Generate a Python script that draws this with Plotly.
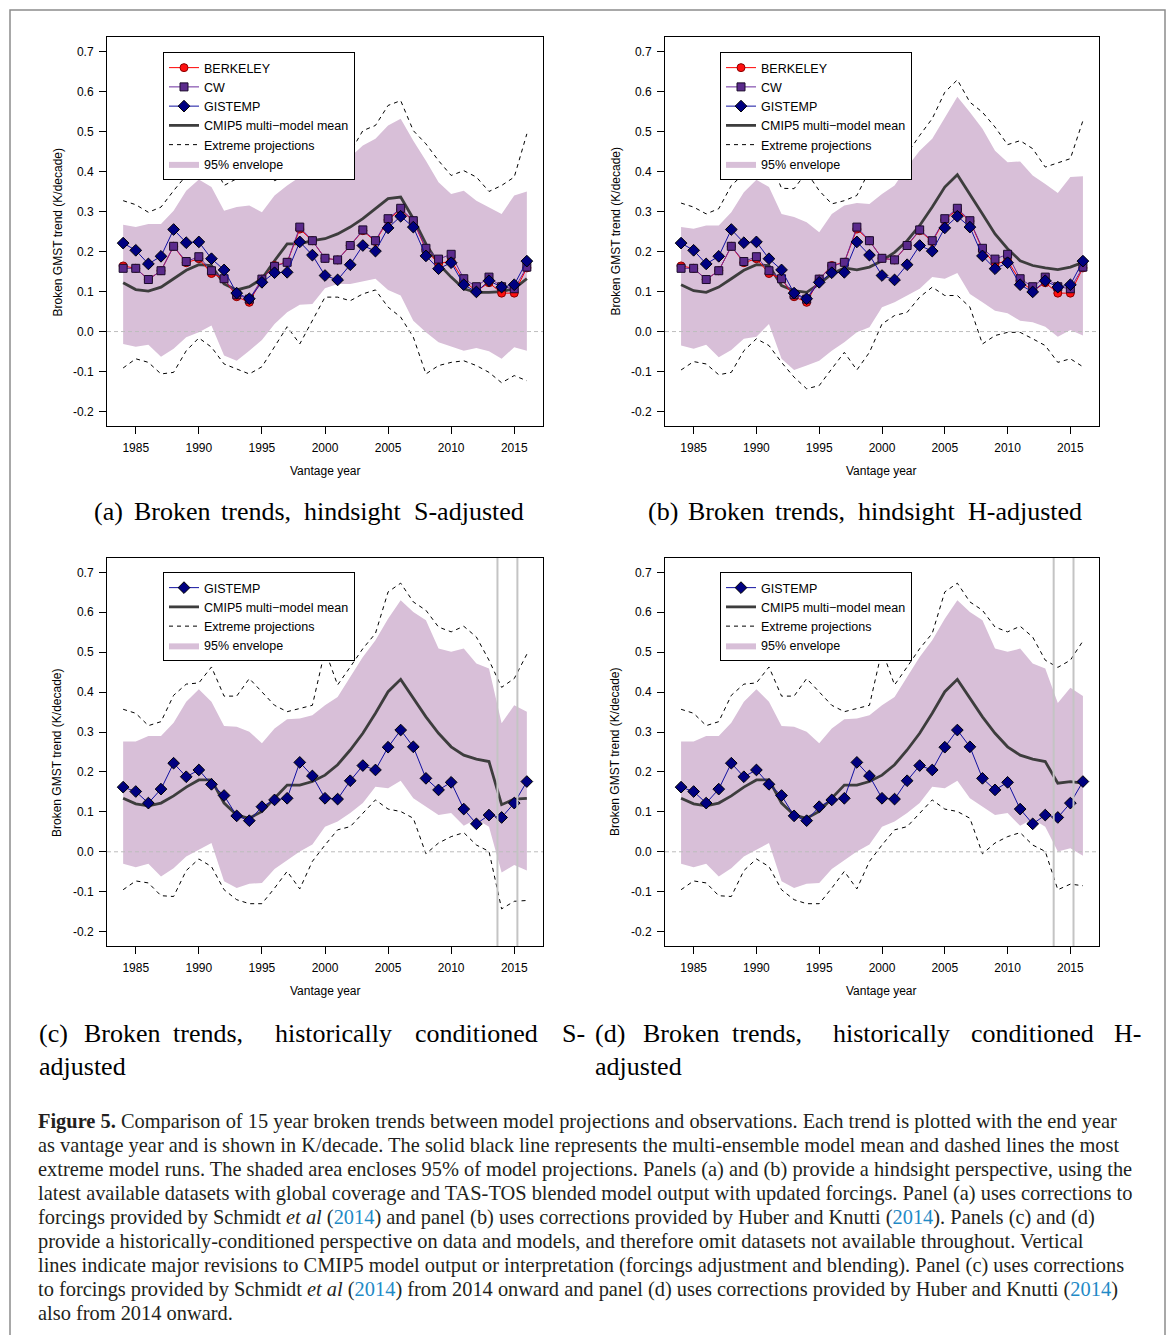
import plotly.graph_objects as go

W, H = 1173, 1335

# ---------------- data ----------------
years = list(range(1984, 2017))
xticks = [1985, 1990, 1995, 2000, 2005, 2010, 2015]
yticks = [-0.2, -0.1, 0.0, 0.1, 0.2, 0.3, 0.4, 0.5, 0.6, 0.7]
ytick_text = ["-0.2", "-0.1", "0.0", "0.1", "0.2", "0.3", "0.4", "0.5", "0.6", "0.7"]

# observations, panels (a) and (b)
berkeley = [0.164, 0.158, 0.130, 0.152, 0.213, 0.172, 0.182, 0.145, 0.132, 0.087, 0.073, 0.131, 0.165, 0.173, 0.256, 0.227,
            0.183, 0.179, 0.215, 0.252, 0.225, 0.279, 0.305, 0.276, 0.205, 0.169, 0.177, 0.127, 0.101, 0.122, 0.096, 0.096, 0.159]
cw = [0.158, 0.158, 0.130, 0.152, 0.213, 0.175, 0.187, 0.152, 0.132, 0.092, 0.081, 0.131, 0.163, 0.173, 0.261, 0.227,
      0.183, 0.179, 0.215, 0.254, 0.227, 0.282, 0.308, 0.277, 0.208, 0.181, 0.193, 0.132, 0.112, 0.136, 0.112, 0.107, 0.161]
gistemp_ab = [0.221, 0.203, 0.169, 0.188, 0.255, 0.222, 0.224, 0.182, 0.154, 0.096, 0.082, 0.123, 0.147, 0.148, 0.224, 0.191,
              0.140, 0.129, 0.167, 0.215, 0.201, 0.259, 0.288, 0.261, 0.189, 0.157, 0.172, 0.117, 0.099, 0.127, 0.111, 0.117, 0.176]

# panel (a): hindsight S-adjusted
mean_a = [0.122, 0.105, 0.101, 0.111, 0.132, 0.153, 0.167, 0.165, 0.119, 0.104, 0.112, 0.132, 0.177, 0.219, 0.219, 0.227,
          0.232, 0.244, 0.261, 0.282, 0.307, 0.332, 0.336, 0.282, 0.219, 0.169, 0.136, 0.107, 0.098, 0.098, 0.100, 0.107, 0.132]
env_up_a = [0.267, 0.261, 0.269, 0.269, 0.302, 0.352, 0.380, 0.361, 0.302, 0.311, 0.315, 0.298, 0.340, 0.365, 0.386, 0.382,
            0.398, 0.411, 0.436, 0.465, 0.482, 0.515, 0.532, 0.477, 0.427, 0.373, 0.344, 0.352, 0.327, 0.311, 0.294, 0.340, 0.350]
env_lo_a = [-0.031, -0.038, -0.033, -0.063, -0.043, -0.014, -0.002, 0.015, -0.060, -0.073, -0.048, -0.021, 0.019, 0.048, 0.067, 0.069,
            0.108, 0.119, 0.119, 0.126, 0.132, 0.104, 0.090, 0.027, -0.002, -0.027, -0.038, -0.048, -0.041, -0.049, -0.068, -0.039, -0.048]
ext_up_a = [0.327, 0.317, 0.298, 0.311, 0.352, 0.390, 0.398, 0.432, 0.365, 0.382, 0.437, 0.411, 0.377, 0.390, 0.402, 0.469,
            0.519, 0.436, 0.448, 0.502, 0.515, 0.565, 0.577, 0.502, 0.469, 0.427, 0.390, 0.402, 0.386, 0.350, 0.365, 0.386, 0.494]
ext_lo_a = [-0.091, -0.068, -0.077, -0.106, -0.102, -0.048, -0.016, -0.039, -0.081, -0.093, -0.106, -0.088, -0.039, 0.012, -0.031, 0.027,
            0.086, 0.086, 0.077, 0.094, 0.104, 0.061, 0.036, -0.014, -0.106, -0.085, -0.077, -0.073, -0.085, -0.102, -0.128, -0.110, -0.123]

# panel (b): hindsight H-adjusted
mean_b = [0.117, 0.102, 0.098, 0.111, 0.132, 0.153, 0.167, 0.165, 0.115, 0.102, 0.098, 0.119, 0.144, 0.159, 0.154, 0.161,
          0.177, 0.198, 0.227, 0.265, 0.311, 0.361, 0.392, 0.344, 0.294, 0.244, 0.207, 0.177, 0.165, 0.159, 0.155, 0.161, 0.173]
env_up_b = [0.261, 0.257, 0.265, 0.265, 0.298, 0.348, 0.379, 0.361, 0.294, 0.286, 0.273, 0.248, 0.294, 0.315, 0.321, 0.319,
            0.344, 0.365, 0.411, 0.452, 0.482, 0.536, 0.587, 0.548, 0.507, 0.452, 0.423, 0.425, 0.390, 0.369, 0.346, 0.386, 0.388]
env_lo_b = [-0.035, -0.043, -0.033, -0.064, -0.046, -0.018, -0.013, 0.019, -0.068, -0.096, -0.085, -0.073, -0.048, -0.027, -0.002, 0.011,
            0.061, 0.073, 0.090, 0.107, 0.136, 0.132, 0.146, 0.094, 0.073, 0.052, 0.046, 0.027, 0.023, 0.012, -0.013, 0.004, -0.010]
ext_up_b = [0.321, 0.311, 0.294, 0.307, 0.365, 0.394, 0.398, 0.434, 0.358, 0.357, 0.398, 0.352, 0.319, 0.327, 0.340, 0.402,
            0.465, 0.390, 0.444, 0.490, 0.532, 0.598, 0.629, 0.573, 0.548, 0.511, 0.467, 0.477, 0.457, 0.411, 0.421, 0.432, 0.527]
ext_lo_b = [-0.096, -0.075, -0.081, -0.108, -0.102, -0.048, -0.018, -0.035, -0.077, -0.114, -0.143, -0.135, -0.093, -0.052, -0.096, -0.052,
            0.019, 0.040, 0.048, 0.086, 0.111, 0.090, 0.090, 0.061, -0.031, -0.010, -0.002, -0.002, -0.018, -0.035, -0.077, -0.068, -0.088]

# panels (c) and (d): historically conditioned
gistemp_cd = [0.162, 0.151, 0.122, 0.157, 0.222, 0.188, 0.205, 0.169, 0.141, 0.090, 0.078, 0.113, 0.130, 0.134, 0.224, 0.190,
              0.134, 0.132, 0.178, 0.216, 0.205, 0.262, 0.305, 0.263, 0.184, 0.155, 0.174, 0.107, 0.070, 0.092, 0.086, 0.122, 0.176]
mean_c = [0.134, 0.120, 0.115, 0.122, 0.140, 0.162, 0.180, 0.180, 0.122, 0.092, 0.084, 0.101, 0.134, 0.167, 0.167, 0.176,
          0.192, 0.218, 0.255, 0.297, 0.347, 0.401, 0.432, 0.384, 0.338, 0.297, 0.263, 0.242, 0.232, 0.226, 0.118, 0.132, 0.134]
env_up_c = [0.276, 0.276, 0.290, 0.290, 0.323, 0.376, 0.407, 0.376, 0.315, 0.313, 0.301, 0.272, 0.309, 0.332, 0.334, 0.342,
            0.367, 0.388, 0.438, 0.488, 0.530, 0.584, 0.630, 0.601, 0.580, 0.509, 0.501, 0.509, 0.472, 0.459, 0.322, 0.367, 0.351]
env_lo_c = [-0.030, -0.039, -0.030, -0.062, -0.041, -0.012, 0.005, 0.022, -0.074, -0.091, -0.080, -0.078, -0.043, -0.020, 0.001, 0.018,
            0.063, 0.076, 0.097, 0.122, 0.163, 0.159, 0.178, 0.134, 0.113, 0.092, 0.097, 0.065, 0.082, 0.063, -0.052, -0.033, -0.047]
ext_up_c = [0.357, 0.347, 0.316, 0.326, 0.392, 0.420, 0.423, 0.463, 0.390, 0.390, 0.434, 0.401, 0.367, 0.351, 0.359, 0.367,
            0.505, 0.418, 0.463, 0.509, 0.547, 0.651, 0.673, 0.626, 0.605, 0.563, 0.551, 0.565, 0.538, 0.480, 0.412, 0.434, 0.495]
ext_lo_c = [-0.095, -0.073, -0.078, -0.110, -0.112, -0.047, -0.018, -0.037, -0.095, -0.120, -0.130, -0.130, -0.091, -0.049, -0.093, -0.024,
            0.017, 0.055, 0.063, 0.097, 0.130, 0.107, 0.101, 0.084, -0.005, 0.022, 0.038, 0.048, 0.017, 0.001, -0.143, -0.124, -0.122]

# panel (d) equals (c) up to 2013, then H-adjusted from 2014 onward
mean_d = mean_c[:30] + [0.172, 0.176, 0.172]
env_up_d = env_up_c[:30] + [0.373, 0.411, 0.390]
env_lo_d = env_lo_c[:30] + [0.001, 0.009, -0.010]
ext_up_d = ext_up_c[:30] + [0.462, 0.480, 0.528]
ext_lo_d = ext_lo_c[:30] + [-0.095, -0.081, -0.085]

revisions = [2013.67, 2015.25]

# ---------------- styling ----------------
THISTLE = "#D8BFD8"
SANS = "Liberation Sans"
SERIF = "Liberation Serif"


def px_x(x):
    return x / W


def px_y(y):
    return 1 - y / H


fig = go.Figure()

panels = [
    dict(key="a", xa="x", ya="y", leg="legend", left=107, right=543, top=37, bottom=426,
         mean=mean_a, eu=env_up_a, el=env_lo_a, xu=ext_up_a, xl=ext_lo_a, full=True, vlines=False),
    dict(key="b", xa="x2", ya="y2", leg="legend2", left=665, right=1099, top=37, bottom=426,
         mean=mean_b, eu=env_up_b, el=env_lo_b, xu=ext_up_b, xl=ext_lo_b, full=True, vlines=False),
    dict(key="c", xa="x3", ya="y3", leg="legend3", left=107, right=543, top=558, bottom=946,
         mean=mean_c, eu=env_up_c, el=env_lo_c, xu=ext_up_c, xl=ext_lo_c, full=False, vlines=True),
    dict(key="d", xa="x4", ya="y4", leg="legend4", left=665, right=1099, top=558, bottom=946,
         mean=mean_d, eu=env_up_d, el=env_lo_d, xu=ext_up_d, xl=ext_lo_d, full=False, vlines=True),
]

shapes = []
annotations = []
layout_axes = {}

for i, p in enumerate(panels):
    common = dict(xaxis=p["xa"], yaxis=p["ya"], legend=p["leg"])
    # envelope
    fig.add_trace(go.Scatter(x=years, y=p["el"], mode="lines", line=dict(width=0, color=THISTLE),
                             showlegend=False, hoverinfo="skip", **common))
    fig.add_trace(go.Scatter(x=years, y=p["eu"], mode="lines", fill="tonexty", fillcolor=THISTLE,
                             line=dict(width=0, color=THISTLE), name="95% envelope", legendrank=6, **common))
    # extreme projections
    fig.add_trace(go.Scatter(x=years, y=p["xu"], mode="lines", line=dict(color="black", width=1, dash="4px,4px"),
                             name="Extreme projections", legendgroup="ext" + p["key"], legendrank=5, **common))
    fig.add_trace(go.Scatter(x=years, y=p["xl"], mode="lines", line=dict(color="black", width=1, dash="4px,4px"),
                             name="Extreme projections", legendgroup="ext" + p["key"], showlegend=False, **common))
    # model mean
    fig.add_trace(go.Scatter(x=years, y=p["mean"], mode="lines", line=dict(color="#3d3d3d", width=2.8),
                             name="CMIP5 multi\u2212model mean", legendrank=4, **common))
    # observations
    if p["full"]:
        fig.add_trace(go.Scatter(x=years, y=berkeley, mode="lines+markers", name="BERKELEY", legendrank=1,
                                 line=dict(color="#FF0000", width=1),
                                 marker=dict(symbol="circle", size=8, color="#FF1010",
                                             line=dict(color="#8B0000", width=1)), **common))
        fig.add_trace(go.Scatter(x=years, y=cw, mode="lines+markers", name="CW", legendrank=2,
                                 line=dict(color="#6A2C9E", width=1),
                                 marker=dict(symbol="square", size=8, color="#5B2A8C",
                                             line=dict(color="#1a0a2a", width=1)), **common))
        gis = gistemp_ab
    else:
        gis = gistemp_cd
    fig.add_trace(go.Scatter(x=years, y=gis, mode="lines+markers", name="GISTEMP", legendrank=3,
                             line=dict(color="#1010A0", width=1),
                             marker=dict(symbol="diamond", size=9, color="#000080",
                                         line=dict(color="black", width=1)), **common))

    # axes
    sx = "" if i == 0 else str(i + 1)
    layout_axes["xaxis" + sx] = dict(
        domain=[px_x(p["left"]), px_x(p["right"])], range=[1982.72, 2017.28], anchor=p["ya"],
        tickvals=xticks, ticks="outside", ticklen=7, tickwidth=1, tickcolor="black",
        showline=True, linecolor="black", linewidth=1, mirror=True, showgrid=False, zeroline=False,
        tickfont=dict(family=SANS, size=12, color="black"), ticklabelstandoff=4)
    layout_axes["yaxis" + sx] = dict(
        domain=[px_y(p["bottom"]), px_y(p["top"])], range=[-0.236, 0.736], anchor=p["xa"],
        tickvals=yticks, ticktext=ytick_text, ticks="outside", ticklen=7, tickwidth=1, tickcolor="black",
        showline=True, linecolor="black", linewidth=1, mirror=True, showgrid=False, zeroline=False,
        tickfont=dict(family=SANS, size=12, color="black"), ticklabelstandoff=3)

    # zero reference line
    shapes.append(dict(type="line", xref=p["xa"] + " domain", x0=0, x1=1, yref=p["ya"], y0=0, y1=0,
                       line=dict(color="#BDBDBD", width=1, dash="4px,3px"), layer="above"))
    if p["vlines"]:
        for v in revisions:
            shapes.append(dict(type="line", xref=p["xa"], x0=v, x1=v, yref=p["ya"] + " domain", y0=0, y1=1,
                               line=dict(color="#C4C4C4", width=2), layer="above"))

    # axis titles
    cx = (p["left"] + p["right"]) / 2
    cy = (p["top"] + p["bottom"]) / 2
    annotations.append(dict(text="Broken GMST trend (K/decade)", xref="paper", yref="paper",
                            x=px_x(p["left"] - 50), y=px_y(cy), textangle=-90, showarrow=False,
                            xanchor="center", yanchor="middle", font=dict(family=SANS, size=12, color="black")))
    annotations.append(dict(text="Vantage year", xref="paper", yref="paper",
                            x=px_x(cx), y=px_y(p["bottom"] + 45), showarrow=False,
                            xanchor="center", yanchor="middle", font=dict(family=SANS, size=12, color="black")))

# legends
leg_common = dict(xanchor="left", yanchor="top", bgcolor="white", bordercolor="black", borderwidth=1,
                  font=dict(family=SANS, size=12.5, color="black"), tracegroupgap=0, traceorder="normal")
layout_legends = dict(
    legend=dict(x=px_x(163), y=px_y(52), **leg_common),
    legend2=dict(x=px_x(720), y=px_y(52), **leg_common),
    legend3=dict(x=px_x(163), y=px_y(572), **leg_common),
    legend4=dict(x=px_x(720), y=px_y(572), **leg_common),
)

# sub-captions (word by word to mimic the LaTeX layout)
sub_words = [
    (512, [("(a)", 93), ("Broken", 133), ("trends,", 220), ("hindsight", 303), ("S-adjusted", 413)]),
    (512, [("(b)", 647), ("Broken", 687), ("trends,", 774), ("hindsight", 857), ("H-adjusted", 967)]),
    (1033, [("(c)", 38), ("Broken", 83), ("trends,", 172), ("historically", 274), ("conditioned", 414), ("S-", 561)]),
    (1066, [("adjusted", 38)]),
    (1033, [("(d)", 594), ("Broken", 642), ("trends,", 731), ("historically", 832), ("conditioned", 970), ("H-", 1113)]),
    (1066, [("adjusted", 594)]),
]
for yy, words in sub_words:
    for wtxt, xx in words:
        annotations.append(dict(text=wtxt, xref="paper", yref="paper", x=px_x(xx - 1), y=px_y(yy),
                                showarrow=False, xanchor="left", yanchor="middle",
                                font=dict(family=SERIF, size=26, color="black")))

# figure caption
BL = "<span style='color:#1F8AC6'>2014</span>"
caption_lines = [
    "<b>Figure 5.</b> Comparison of 15 year broken trends between model projections and observations. Each trend is plotted with the end year",
    "as vantage year and is shown in K/decade. The solid black line represents the multi-ensemble model mean and dashed lines the most",
    "extreme model runs. The shaded area encloses 95% of model projections. Panels (a) and (b) provide a hindsight perspective, using the",
    "latest available datasets with global coverage and TAS-TOS blended model output with updated forcings. Panel (a) uses corrections to",
    "forcings provided by Schmidt <i>et al</i> (" + BL + ") and panel (b) uses corrections provided by Huber and Knutti (" + BL + "). Panels (c) and (d)",
    "provide a historically-conditioned perspective on data and models, and therefore omit datasets not available throughout. Vertical",
    "lines indicate major revisions to CMIP5 model output or interpretation (forcings adjustment and blending). Panel (c) uses corrections",
    "to forcings provided by Schmidt <i>et al</i> (" + BL + ") from 2014 onward and panel (d) uses corrections provided by Huber and Knutti (" + BL + ")",
    "also from 2014 onward.",
]
for k, line in enumerate(caption_lines):
    annotations.append(dict(text=line, xref="paper", yref="paper", x=px_x(36), y=px_y(1121 + 24 * k),
                            showarrow=False, xanchor="left", yanchor="middle",
                            font=dict(family=SERIF, size=20.4, color="#231F20")))

# outer frame
shapes.append(dict(type="rect", xref="paper", yref="paper", x0=px_x(10), x1=px_x(1165), y0=-0.02, y1=px_y(10),
                   line=dict(color="#8C8C8C", width=1.5), fillcolor="rgba(0,0,0,0)", layer="below"))

fig.update_layout(
    width=W, height=H, margin=dict(l=0, r=0, t=0, b=0, pad=0),
    paper_bgcolor="white", plot_bgcolor="white",
    shapes=shapes, annotations=annotations, hovermode=False,
    **layout_axes, **layout_legends,
)

fig.write_html("out.html", config={"displayModeBar": False},
               post_script="document.body.style.margin='0';")
